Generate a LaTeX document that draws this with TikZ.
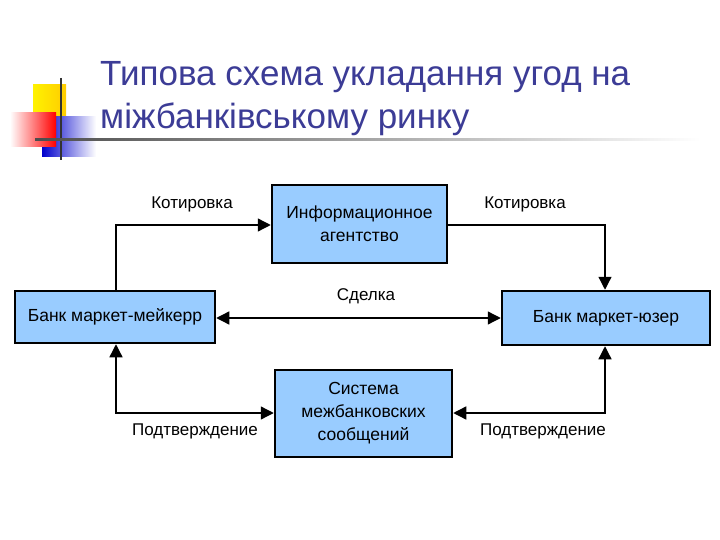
\documentclass[tikz,border=0pt]{standalone}
\usepackage{fontspec}
\setmainfont{Liberation Sans}
\usetikzlibrary{arrows.meta}
\definecolor{boxfill}{HTML}{99CCFF}
\definecolor{titlec}{HTML}{3C3C96}
\begin{document}
\begin{tikzpicture}[x=1pt,y=-1pt,
 box/.style={draw=black,line width=2.5pt,fill=boxfill,inner sep=0pt,align=center,font=\fontsize{17.5}{23}\selectfont},
 tip/.style={Triangle[length=13pt,width=13pt]},
 conn/.style={line width=1.3pt,-{Triangle[length=13pt,width=13pt]}},
 dconn/.style={line width=1.3pt,{Triangle[length=13pt,width=13pt]}-{Triangle[length=13pt,width=13pt]}},
 lbl/.style={font=\fontsize{17}{20}\selectfont}]
\useasboundingbox (0,0) rectangle (720,540);
% logo
\shade[left color=yellow!90!orange,right color=yellow!60!orange] (33,85) rectangle (66,116);
\shade[left color=blue!80!black,right color=white] (42,117) rectangle (96,157);
\shade[left color=white,right color=red] (10,113) rectangle (56,147);
\draw[line width=2pt,black!80] (61,78) -- (61,160);
\shade[left color=black!70,right color=white] (35,139) rectangle (700,141);
% title
\node[anchor=base west,text=titlec,font=\fontsize{35}{40}\selectfont,inner sep=0pt] (t1) at (100,86) {Типова схема укладання угод на};
\node[anchor=base west,text=titlec,font=\fontsize{35}{40}\selectfont,inner sep=0pt] (t2) at (100,129) {міжбанківському ринку};
% boxes
\node[box,minimum width=175pt,minimum height=78pt] (info) at (359.5,224) {Информационное\\агентство};
\node[box,minimum width=200pt,minimum height=52pt] (maker) at (115,317) {Банк маркет-мейкерр};
\node[box,minimum width=208pt,minimum height=54pt] (user) at (606,318) {Банк маркет-юзер};
\node[box,minimum width=177pt,minimum height=87pt] (sys) at (363.5,413.5) {Система\\межбанковских\\сообщений};
% connectors
\draw[conn] (maker.north -| 116,0) |- (info.west |- 0,225);
\draw[conn] (info.east |- 0,225) -| (user.north -| 605,0);
\draw[dconn] (maker.east |- 0,318) -- (user.west |- 0,318);
\draw[dconn] (maker.south -| 116,0) |- (sys.west |- 0,413);
\draw[dconn] (user.south -| 605,0) |- (sys.east |- 0,413);
% labels
\node[lbl] (l1) at (192,204) {Котировка};
\node[lbl] (l2) at (525,204) {Котировка};
\node[lbl] (l3) at (366,296) {Сделка};
\node[lbl] (l4) at (195,431) {Подтверждение};
\node[lbl] (l5) at (543,431) {Подтверждение};
\end{tikzpicture}
\end{document}
